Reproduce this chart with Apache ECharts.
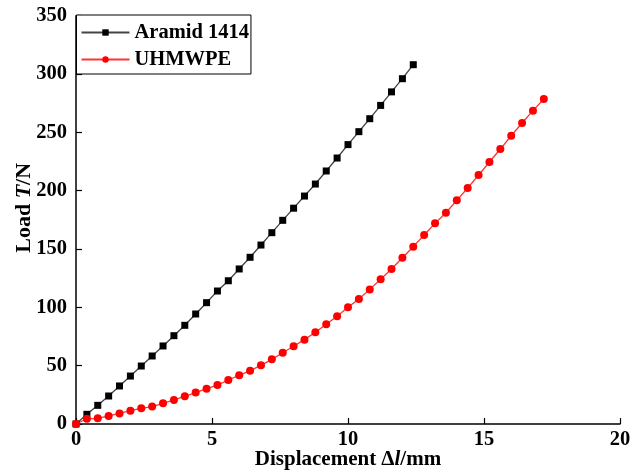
<!DOCTYPE html>
<html>
<head>
<meta charset="utf-8">
<script src="https://cdn.jsdelivr.net/npm/echarts@6/dist/echarts.min.js"></script>
<style>html,body{margin:0;padding:0;background:#fff}#c{width:642px;height:474px}</style>
</head>
<body>
<div id="c"></div>
<script>
const aramidX = [0,0.4,0.8,1.2,1.6,2.0,2.4,2.8,3.2,3.6,4.0,4.4,4.8,5.2,5.6,6.0,6.4,6.8,7.2,7.6,8.0,8.4,8.8,9.2,9.6,10.0,10.4,10.8,11.2,11.6,12.0,12.4];
const aramidY = [0,8.3,16,24,32.6,41.1,49.7,58.3,66.9,75.7,84.6,94.3,104,114,122.8,132.9,142.9,153.4,164,174.6,185,195.4,205.7,216.9,228,239.5,250.6,261.7,273.1,284.7,296,308];
const uhmwpeX = [0,0.4,0.8,1.2,1.6,2.0,2.4,2.8,3.2,3.6,4.0,4.4,4.8,5.2,5.6,6.0,6.4,6.8,7.2,7.6,8.0,8.4,8.8,9.2,9.6,10.0,10.4,10.8,11.2,11.6,12.0,12.4,12.8,13.2,13.6,14.0,14.4,14.8,15.2,15.6,16.0,16.4,16.8,17.2];
const uhmwpeY = [0,4.5,4.9,6.9,9.1,11.4,13.4,14.9,17.7,20.6,23.7,26.9,30.3,33.4,37.7,41.7,45.7,50.3,55.4,61.1,66.6,72.3,78.6,85.5,92.3,100,107.1,115.4,124,132.9,142.5,152,162,172,181.1,191.7,202.3,213.4,224.6,235.7,247.1,258,268.6,278.6];
const seriesNames = ['Aramid 1414', 'UHMWPE'];

const font = '"Liberation Serif", "Times New Roman", serif';
const chart = echarts.init(document.getElementById('c'), null, {renderer: 'canvas'});
const zip = (xs, ys) => xs.map((x, i) => [x, ys[i]]);
chart.setOption({
  animation: false,
  backgroundColor: '#fff',
  grid: {left: 76, right: 22, top: 15.7, bottom: 50, containLabel: false, outerBoundsMode: 'none'},
  legend: {
    left: 76.5, top: 15,
    orient: 'vertical',
    data: seriesNames,
    borderColor: '#000', borderWidth: 1,
    padding: [7, 2, 4, 4],
    itemGap: 6,
    itemWidth: 48, itemHeight: 8,
    textStyle: {fontFamily: font, fontWeight: 'bold', fontSize: 20.5, lineHeight: 20, color: '#000'},
    backgroundColor: '#fff'
  },
  xAxis: {
    type: 'value', min: 0, max: 20, interval: 5,
    name: '{b|Displacement Δ}{i|l}{b|/mm}',
    nameLocation: 'middle', nameGap: 25, nameMoveOverlap: false,
    nameTextStyle: {rich: {
      b: {fontFamily: font, fontWeight: 'bold', fontSize: 21, color: '#000'},
      i: {fontFamily: font, fontWeight: 'bold', fontStyle: 'italic', fontSize: 21, color: '#000'}
    }},
    axisLine: {lineStyle: {color: '#000', width: 1.5}},
    axisTick: {inside: true, length: 6, lineStyle: {color: '#000', width: 1.2}},
    axisLabel: {fontFamily: font, fontWeight: 'bold', fontSize: 20.5, color: '#000', margin: 5},
    splitLine: {show: false}
  },
  yAxis: {
    type: 'value', min: 0, max: 350, interval: 50,
    name: '{b|Load }{i|T}{b|/N}',
    nameLocation: 'middle', nameGap: 41, nameRotate: 90, nameMoveOverlap: false,
    nameTextStyle: {padding: [0, 0, 0, 24], rich: {
      b: {fontFamily: font, fontWeight: 'bold', fontSize: 22, color: '#000'},
      i: {fontFamily: font, fontWeight: 'bold', fontStyle: 'italic', fontSize: 22, color: '#000'}
    }},
    axisLine: {show: true, lineStyle: {color: '#000', width: 1.5}},
    axisTick: {show: true, inside: true, length: 6, lineStyle: {color: '#000', width: 1.2}},
    axisLabel: {fontFamily: font, fontWeight: 'bold', fontSize: 20.5, color: '#000', margin: 9},
    splitLine: {show: false}
  },
  series: [
    {
      name: seriesNames[0], type: 'line', data: zip(aramidX, aramidY),
      symbol: 'rect', symbolSize: 7, showAllSymbol: true,
      lineStyle: {color: '#444', width: 1.3},
      itemStyle: {color: '#000'}
    },
    {
      name: seriesNames[1], type: 'line', data: zip(uhmwpeX, uhmwpeY),
      symbol: 'circle', symbolSize: 8, showAllSymbol: true,
      lineStyle: {color: '#ff3333', width: 1.3},
      itemStyle: {color: '#ff0000'}
    }
  ]
});
</script>
</body>
</html>
